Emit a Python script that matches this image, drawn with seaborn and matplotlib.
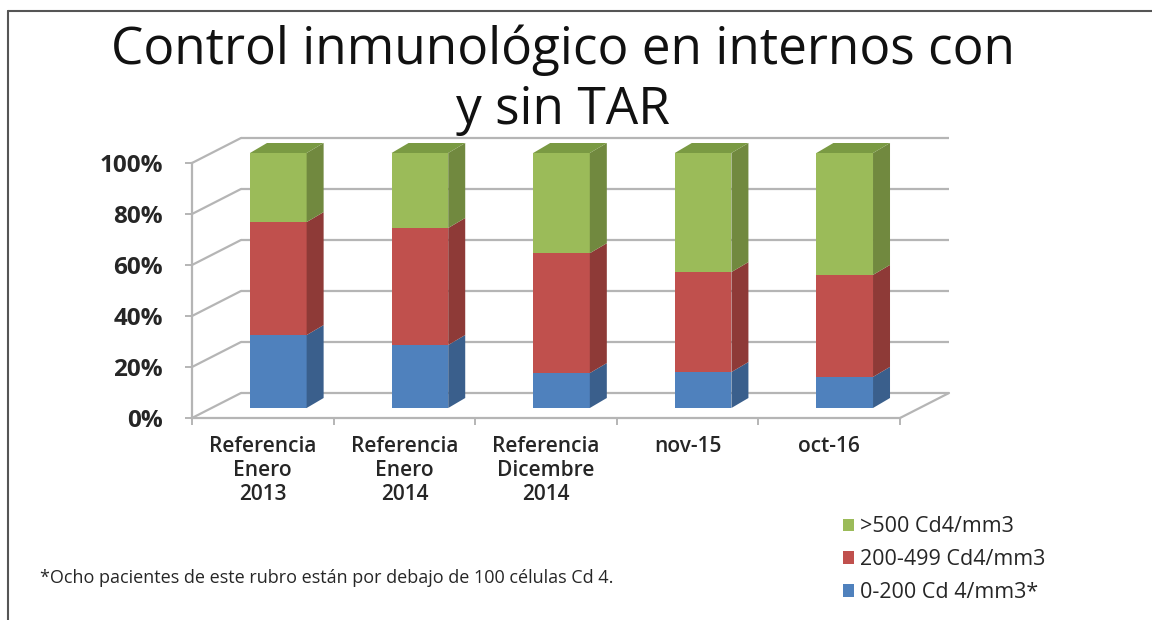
import numpy as np
import pandas as pd
import matplotlib
matplotlib.use("Agg")
import matplotlib.pyplot as plt
import matplotlib.transforms as mtransforms
from matplotlib.patches import Polygon, Patch
from matplotlib.lines import Line2D
import seaborn as sns

# ---------------- data ----------------
categories = ["Referencia\nEnero\n2013", "Referencia\nEnero\n2014",
              "Referencia\nDicembre\n2014", "nov-15", "oct-16"]
low_vals = [28.6, 24.7, 13.7, 14.1, 12.2]     # 0-200 Cd 4/mm3*
mid_vals = [44.3, 45.9, 47.0, 39.2, 40.0]     # 200-499 Cd4/mm3
high_vals = [27.1, 29.4, 39.3, 46.7, 47.8]    # >500 Cd4/mm3
series_labels = [">500 Cd4/mm3", "200-499 Cd4/mm3", "0-200 Cd 4/mm3*"]
y_ticks = [0, 20, 40, 60, 80, 100]
y_tick_labels = ["0%", "20%", "40%", "60%", "80%", "100%"]
title_text = "Control inmunológico en internos con\ny sin TAR"
footnote_text = "*Ocho pacientes de este rubro están por debajo de 100 células Cd 4."

# ---------------- style ----------------
sns.set_theme(style="white")
plt.rcParams['font.family'] = ['Open Sans', 'DejaVu Sans']

face_cols = {"high": "#9BBB59", "mid": "#C0504D", "low": "#4F81BD"}
side_cols = {"high": "#71893F", "mid": "#8E3A37", "low": "#3A5F8C"}
top_col = "#7A9A43"
grid_col = "#B5B5B5"
text_col = "#262626"

W, H = 1152, 620
fig = plt.figure(figsize=(W / 100, H / 100), dpi=100)
fig.patch.set_facecolor("white")
ax = fig.add_axes([192 / W, (H - 418) / H, 708 / W, 255 / H])
ax.set_facecolor("none")

df = pd.DataFrame({"cat": categories, "low": low_vals, "mid": mid_vals, "high": high_vals})
df["cum_low"] = df["low"]
df["cum_mid"] = df["low"] + df["mid"]
df["cum_all"] = df["low"] + df["mid"] + df["high"]

bar_w = 0.40
for col, key in [("cum_all", "high"), ("cum_mid", "mid"), ("cum_low", "low")]:
    sns.barplot(data=df, x="cat", y=col, color=face_cols[key], saturation=1,
                width=bar_w, linewidth=0, errorbar=None, ax=ax, zorder=4)

ax.set_xlim(-0.5, 4.5)
ax.set_ylim(0, 100)

# pseudo-3D geometry (pixel depth converted to data units)
px_per_cat = 708 / 5
px_per_pct = 255 / 100
DX, DY = 49 / px_per_cat, 25 / px_per_pct        # wall depth
SDX, SDY = 17 / px_per_cat, 10 / px_per_pct      # bar depth
bar_off = mtransforms.ScaledTranslation(15.5 / 100, 10 / 100, fig.dpi_scale_trans)
bar_trans = ax.transData + bar_off

for p in ax.patches:
    p.set_transform(bar_trans)
    p.set_clip_on(False)

# side and top faces, derived from the bars and the data
n = len(categories)
green_patches = ax.patches[:n]
for i, p in enumerate(green_patches):
    xr = p.get_x() + p.get_width()
    xl = p.get_x()
    bounds = [0, df["cum_low"][i], df["cum_mid"][i], df["cum_all"][i]]
    for (y0, y1, key) in zip(bounds[:-1], bounds[1:], ["low", "mid", "high"]):
        poly = Polygon([(xr, y0), (xr + SDX, y0 + SDY), (xr + SDX, y1 + SDY), (xr, y1)],
                       closed=True, facecolor=side_cols[key], edgecolor="none",
                       transform=bar_trans, clip_on=False, zorder=4)
        ax.add_patch(poly)
    ytop = bounds[-1]
    poly = Polygon([(xl, ytop), (xl + SDX, ytop + SDY), (xr + SDX, ytop + SDY), (xr, ytop)],
                   closed=True, facecolor=top_col, edgecolor="none",
                   transform=bar_trans, clip_on=False, zorder=4)
    ax.add_patch(poly)

# back wall gridlines and floor
x0, x1 = ax.get_xlim()
for v in y_ticks:
    ax.plot([x0 + DX, x1 + DX], [v + DY, v + DY], color=grid_col, lw=1.6,
            clip_on=False, zorder=1, solid_capstyle="butt")
    ax.plot([x0, x0 + DX], [v, v + DY], color=grid_col, lw=1.6, clip_on=False, zorder=1)
ax.plot([x1, x1 + DX], [0, DY], color=grid_col, lw=1.6, clip_on=False, zorder=1)

# axes spines and ticks
for s in ["top", "right"]:
    ax.spines[s].set_visible(False)
for s in ["left", "bottom"]:
    ax.spines[s].set_visible(True)
    ax.spines[s].set_color(grid_col)
    ax.spines[s].set_linewidth(1.6)
    ax.spines[s].set_zorder(2)

ax.set_yticks(y_ticks, labels=y_tick_labels)
ax.tick_params(axis="y", left=True, length=5, width=1.4, color=grid_col, pad=16,
               labelsize=17.5, labelcolor=text_col)
for t in ax.get_yticklabels():
    t.set_fontweight("bold")

ax.set_xticks(range(n), labels=categories)
ax.set_xticks(np.arange(-0.5, n, 1.0), minor=True)
ax.tick_params(axis="x", which="major", bottom=False, length=0, pad=13,
               labelsize=15, labelcolor=text_col)
ax.tick_params(axis="x", which="minor", bottom=True, length=5, width=1.4, color=grid_col)
for t in ax.get_xticklabels():
    t.set_fontweight("semibold")
    t.set_linespacing(1.2)
ax.set_xlabel("")
ax.set_ylabel("")

# title
fig.text(0.489, 1 - 24 / H, title_text, ha="center", va="top", fontsize=37,
         color="#111111", linespacing=1.25)

# legend
handles = [Patch(facecolor=face_cols[k], edgecolor="none") for k in ["high", "mid", "low"]]
fig.legend(handles=handles, labels=series_labels, loc="upper left",
           bbox_to_anchor=(824 / W, 1 - 497 / H), frameon=False, fontsize=15.5,
           handlelength=0.5, handleheight=0.5, handletextpad=0.25,
           labelspacing=0.55, labelcolor=text_col)

# footnote
fig.text(40 / W, 1 - 578 / H, footnote_text, ha="left", va="center",
         fontsize=13, color=text_col)

# frame lines of the picture
fig.add_artist(Line2D([8 / W, 1], [1 - 11 / H, 1 - 11 / H], transform=fig.transFigure,
                      color="#555555", lw=1.5))
fig.add_artist(Line2D([8 / W, 8 / W], [0, 1 - 11 / H], transform=fig.transFigure,
                      color="#555555", lw=1.5))

fig.savefig("out.png", dpi=100, facecolor="white")
